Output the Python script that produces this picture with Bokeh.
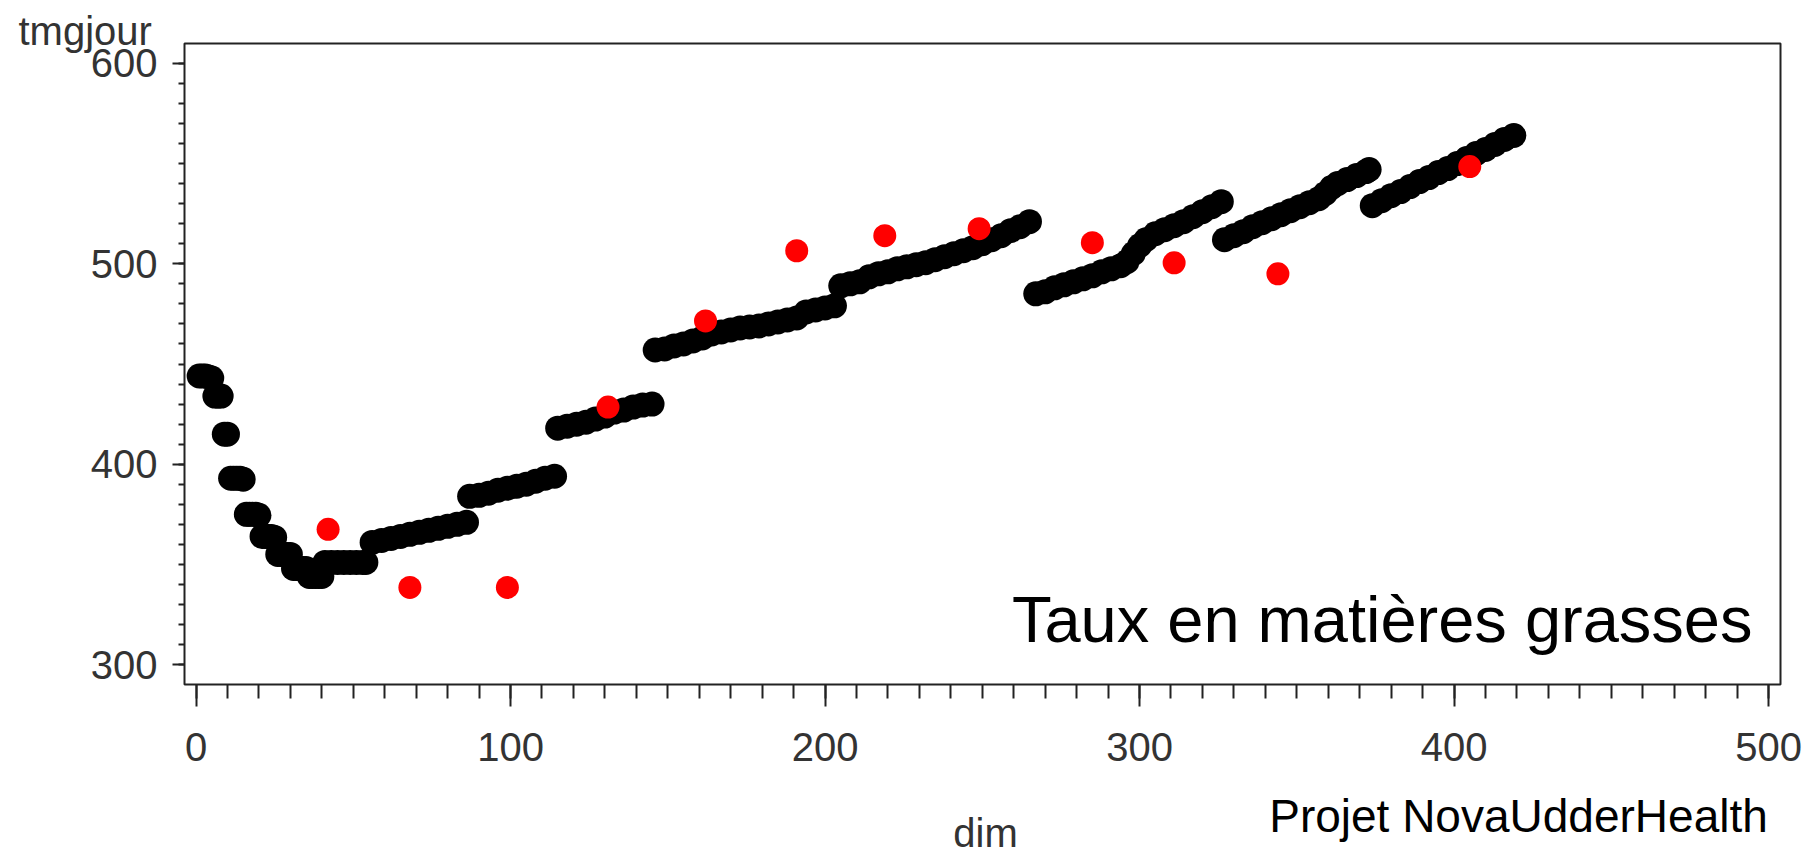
from bokeh.plotting import figure
from bokeh.models import Label, SingleIntervalTicker, Range1d, BoxAnnotation
from bokeh.embed import file_html
from bokeh.resources import INLINE

# ---- data ----
black_dim = [1, 2, 3, 4, 5, 6, 7, 8, 9, 10,
             11, 12, 13, 14, 15, 16, 17, 18, 19, 20,
             21, 22, 23, 24, 25, 26, 27, 28, 29, 30,
             31, 32, 33, 34, 35, 36, 37, 38, 39, 40,
             41, 43, 45, 47, 49, 51, 53, 54,
             56, 59, 62, 65, 68, 71, 74, 77, 80, 83, 86,
             87, 90, 93, 96, 99, 102, 105, 108, 111, 114,
             115, 118, 121, 124, 127, 130, 133, 136, 139, 142, 145,
             146, 149, 152, 155, 158, 161, 164, 167, 170, 173, 176, 179, 182, 185, 188, 191, 194, 197, 200, 203,
             205, 208, 211, 214, 217, 220, 223, 226, 229, 232, 235, 238, 241, 244, 247, 250, 253, 256, 259, 262, 265,
             267, 270, 273, 276, 279, 282, 285, 288, 291, 294, 296, 298, 300, 302, 305, 308, 311, 314, 317, 320, 323, 326,
             327, 330, 333, 336, 339, 342, 345, 348, 351, 354, 357, 359, 361, 363, 366, 369, 372, 373,
             374, 377, 380, 383, 386, 389, 392, 395, 398, 401, 404, 407, 410, 413, 416, 419]
black_val = [444, 444, 444, 443.5, 443, 434, 434, 434, 415, 415,
             393, 393, 393, 393, 392.5, 375, 375, 375, 375, 374.5,
             364, 364, 364, 364, 363.5, 355, 355, 355, 355, 355,
             348, 348, 348, 348, 348, 344, 344, 344, 344, 344,
             351, 351, 351, 351, 351, 351, 351, 351,
             361, 362, 363, 364, 365, 366, 367, 368, 369, 370, 371,
             384, 384.5, 385.5, 387, 388, 389, 390, 391.5, 393, 394,
             418, 419, 420, 421, 422.5, 424, 426, 427, 428.5, 429.5, 430,
             457, 457.5, 459, 460, 461.5, 463, 465, 466, 467, 468, 468.5, 469, 470, 471, 472, 473, 476, 477, 478, 479,
             489, 490, 491, 493.5, 495, 496, 497.5, 498.5, 499.5, 500.5, 502, 503.5, 505, 506.5, 508, 510, 512, 514, 516.5, 518.5, 521,
             485, 486, 488, 489.5, 491, 492.5, 494, 496, 497.5, 499, 501, 505, 509, 512, 515, 517, 519, 521, 523.5, 526, 528.5, 531,
             512, 514, 516, 518.5, 520.5, 522.5, 524.5, 526.5, 528.5, 530.5, 532.5, 535, 538, 540, 542, 544, 546, 547,
             529, 531.5, 534, 536, 538.5, 541, 543, 545.5, 547.5, 550, 552.5, 555, 557, 559.5, 562, 564]

red_dim = [42, 68, 99, 131, 162, 191, 219, 249, 285, 311, 344, 405]
red_val = [367.5, 338.5, 338.5, 428.5, 471.5, 506.5, 514, 517.5, 510.5, 500.5, 495, 548.5]

x_ticks = [0, 100, 200, 300, 400, 500]
y_ticks = [300, 400, 500, 600]

title_text = "Taux en matières grasses"
credit_text = "Projet NovaUdderHealth"
y_name = "tmgjour"
x_name = "dim"

# ---- layout (the frame covers the whole page; axes sit at fixed places) ----
W, H = 1813, 858
FL, FR, FT, FB = 184, 1780, 43, 684       # plot box, in pixels
X0, X1 = -3.66, 503.8                     # data at the box edges
Y0, Y1 = 290.1, 609.9
sx = (X1 - X0) / (FR - FL)
sy = (Y1 - Y0) / (FB - FT)

def dx(px):
    return X0 + (px - FL) * sx

def dy(py):
    return Y0 + (FB - py) * sy

p = figure(width=W, height=H, output_backend="svg", toolbar_location=None, title=None,
           x_range=Range1d(dx(0), dx(W)), y_range=Range1d(dy(H), dy(0)),
           min_border=0, min_border_left=0, min_border_right=0,
           min_border_top=0, min_border_bottom=0)
p.background_fill_color = "white"
p.border_fill_color = "white"
p.outline_line_color = None
p.xgrid.visible = False
p.ygrid.visible = False

# plot box
p.add_layout(BoxAnnotation(left=X0, right=X1, bottom=Y0, top=Y1,
                           fill_alpha=0, line_color="#222222", line_alpha=1.0,
                           line_width=2))

axis_font = "Liberation Sans"
for ax in (p.xaxis[0], p.yaxis[0]):
    ax.axis_line_color = None
    ax.major_tick_line_color = "#222222"
    ax.minor_tick_line_color = "#222222"
    ax.major_tick_line_width = 2
    ax.minor_tick_line_width = 2
    ax.major_tick_in = 0
    ax.minor_tick_in = 0
    ax.major_label_text_font = axis_font
    ax.major_label_text_font_size = "40px"
    ax.major_label_text_color = "#333333"

p.xaxis.ticker = SingleIntervalTicker(interval=100, num_minor_ticks=10)
p.yaxis.ticker = SingleIntervalTicker(interval=100, num_minor_ticks=10)
p.xaxis.major_label_overrides = {t: str(t) for t in x_ticks}
p.yaxis.major_label_overrides = {t: str(t) for t in y_ticks}
p.xaxis.fixed_location = Y0
p.yaxis.fixed_location = X0
p.xaxis.bounds = (x_ticks[0], x_ticks[-1])
p.yaxis.bounds = (y_ticks[0], y_ticks[-1])
p.xaxis.major_tick_out = 22
p.xaxis.minor_tick_out = 14
p.xaxis.major_label_standoff = 26
p.yaxis.major_tick_out = 12
p.yaxis.minor_tick_out = 6
p.yaxis.major_label_standoff = 15

p.scatter(black_dim, black_val, size=25, marker="circle",
          fill_color="black", line_color="black", line_width=0)
p.scatter(red_dim, red_val, size=23, marker="circle",
          fill_color="#FF0000", line_color="#FF0000", line_width=0)

def add_text(txt, px, baseline_px, size, align, color, font):
    # the svg text sits about 0.36 em lower than the asked baseline
    p.add_layout(Label(x=dx(px), y=dy(baseline_px - 0.36 * size), text=txt,
                       text_font=font, text_font_size=f"{size}px",
                       text_color=color, text_align=align,
                       text_baseline="alphabetic"))

add_text(y_name, 18, 45, 40, "left", "#333333", axis_font)
add_text(x_name, 985, 847, 40, "center", "#333333", axis_font)
add_text(title_text, 1752, 642, 65, "right", "black", "Liberation Sans")
add_text(credit_text, 1518, 832, 46, "center", "black", "Liberation Sans")

open("out.html", "w").write(file_html(p, INLINE))
